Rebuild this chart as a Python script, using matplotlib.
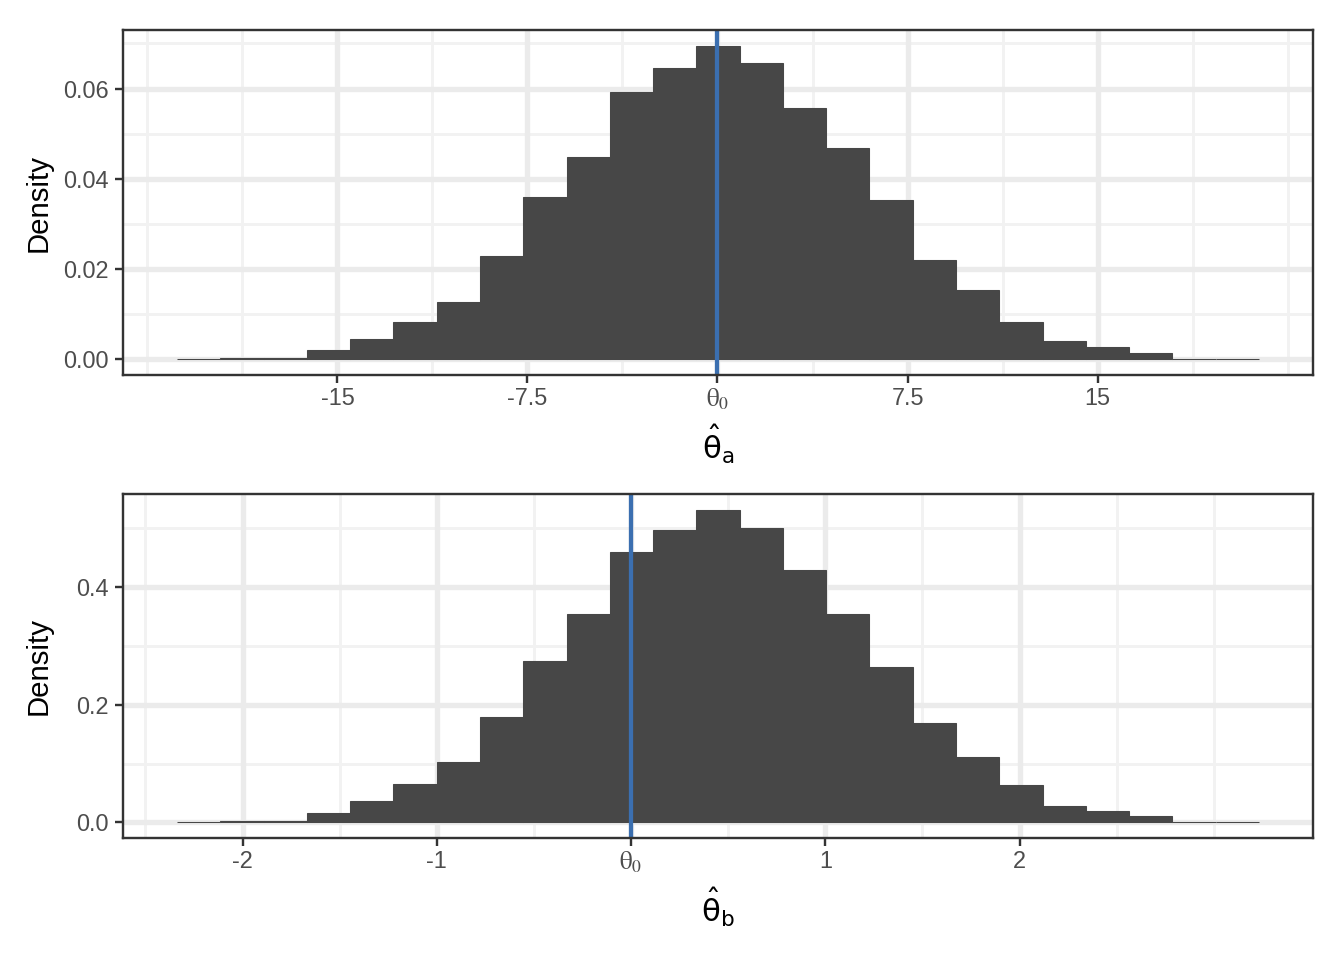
import numpy as np
import matplotlib
matplotlib.use("Agg")
import matplotlib.pyplot as plt
from matplotlib.font_manager import FontProperties

plt.rcParams['font.family'] = ['Liberation Sans', 'DejaVu Sans']

# ---- data ----
a_edge_lo, a_edge_hi = -21.33, 21.37
a_density = [0.0001, 0.0002, 0.0003, 0.00214, 0.00451, 0.00835, 0.0127, 0.0229,
             0.0360, 0.0449, 0.0593, 0.0646, 0.0695, 0.0657, 0.0557, 0.0468,
             0.0353, 0.0220, 0.0154, 0.00828, 0.00406, 0.00273, 0.0014, 0.0001, 0.0001]
a_ticks = [-15, -7.5, 0, 7.5, 15]
a_ticklabels = ['-15', '-7.5', r'$\mathrm{\theta}_0$', '7.5', '15']
a_minor = [-22.5, -18.75, -11.25, -3.75, 3.75, 11.25, 18.75, 22.5]
a_yticks = [0.00, 0.02, 0.04, 0.06]
a_yticklabels = ['0.00', '0.02', '0.04', '0.06']
a_yminor = [0.01, 0.03, 0.05, 0.07]
a_theta0 = 0.0

b_edge_lo, b_edge_hi = -2.337, 3.232
b_density = [0.0008, 0.0015, 0.003, 0.0164, 0.0362, 0.0651, 0.1024, 0.1788,
             0.2738, 0.3536, 0.4594, 0.4979, 0.5319, 0.5013, 0.4300, 0.3536,
             0.2637, 0.1686, 0.1109, 0.0634, 0.0277, 0.0192, 0.0108, 0.001, 0.0008]
b_ticks = [-2, -1, 0, 1, 2]
b_ticklabels = ['-2', '-1', r'$\mathrm{\theta}_0$', '1', '2']
b_minor = [-2.5, -1.5, -0.5, 0.5, 1.5, 2.5, 3.0]
b_yticks = [0.0, 0.2, 0.4]
b_yticklabels = ['0.0', '0.2', '0.4']
b_yminor = [0.1, 0.3, 0.5]
b_theta0 = 0.0

xlabels = [r'$\hat{\mathrm{\theta}}_\mathrm{a}$', r'$\hat{\mathrm{\theta}}_\mathrm{b}$']

BAR = '#474747'
VLINE = '#3B6FB0'
GRID_MAJ = '#EBEBEB'
GRID_MIN = '#F2F2F2'
BORDER = '#333333'
TICKTXT = '#4D4D4D'

fig = plt.figure(figsize=(7, 5), dpi=192)
W, H = 1344, 960
ax_a = fig.add_axes([123 / W, 1 - 375 / H, (1313 - 123) / W, (375 - 30) / H])
ax_b = fig.add_axes([123 / W, 1 - 838 / H, (1313 - 123) / W, (838 - 494) / H])

panels = [
    (ax_a, a_edge_lo, a_edge_hi, a_density, a_ticks, a_ticklabels, a_minor,
     a_yticks, a_yticklabels, a_yminor, a_theta0, xlabels[0]),
    (ax_b, b_edge_lo, b_edge_hi, b_density, b_ticks, b_ticklabels, b_minor,
     b_yticks, b_yticklabels, b_yminor, b_theta0, xlabels[1]),
]

for (ax, lo, hi, dens, xt, xtl, xmin_, yt, ytl, ymin_, th0, xl) in panels:
    n = len(dens)
    edges = np.linspace(lo, hi, n + 1)
    widths = np.diff(edges)
    # limits like ggplot (5% expansion)
    xr = hi - lo
    ax.set_xlim(lo - 0.05 * xr, hi + 0.05 * xr)
    ymax = max(dens)
    ax.set_ylim(-0.05 * ymax, ymax * 1.05)

    for m in xmin_:
        ax.axvline(m, color=GRID_MIN, lw=1.1, zorder=0)
    for m in ymin_:
        ax.axhline(m, color=GRID_MIN, lw=1.1, zorder=0)
    for m in xt:
        ax.axvline(m, color=GRID_MAJ, lw=2.0, zorder=0)
    for m in yt:
        ax.axhline(m, color=GRID_MAJ, lw=2.0, zorder=0)

    ax.bar(edges[:-1], dens, width=widths, align='edge', color=BAR,
           edgecolor=BAR, linewidth=0.4, zorder=2)
    ax.axvline(th0, color=VLINE, lw=1.6, zorder=3)

    ax.set_xticks(xt)
    ax.set_xticklabels(xtl)
    ax.set_yticks(yt)
    ax.set_yticklabels(ytl)
    ax.tick_params(axis='both', which='major', length=3.0, width=0.9,
                   color=BORDER, labelsize=8.8, labelcolor=TICKTXT, pad=2.5)
    ax.tick_params(axis='x', pad=1.5)
    for lab in ax.get_xticklabels():
        if 'theta' in lab.get_text():
            lab.set_fontproperties(FontProperties(family='Liberation Serif', size=9.5,
                                                  math_fontfamily='stix'))
    for s in ax.spines.values():
        s.set_color(BORDER)
        s.set_linewidth(0.9)
        s.set_zorder(5)
    ax.set_ylabel('Density', fontsize=11, color='black')
    ax.yaxis.set_label_coords((53 - 123) / 1190, 0.5)
    ax.set_xlabel(xl, color='black', labelpad=4,
                  fontproperties=FontProperties(family='Liberation Sans', size=11.5,
                                                math_fontfamily='dejavusans'))
    ax.set_facecolor('white')

fig.savefig('out.png', dpi=192, facecolor='white')
